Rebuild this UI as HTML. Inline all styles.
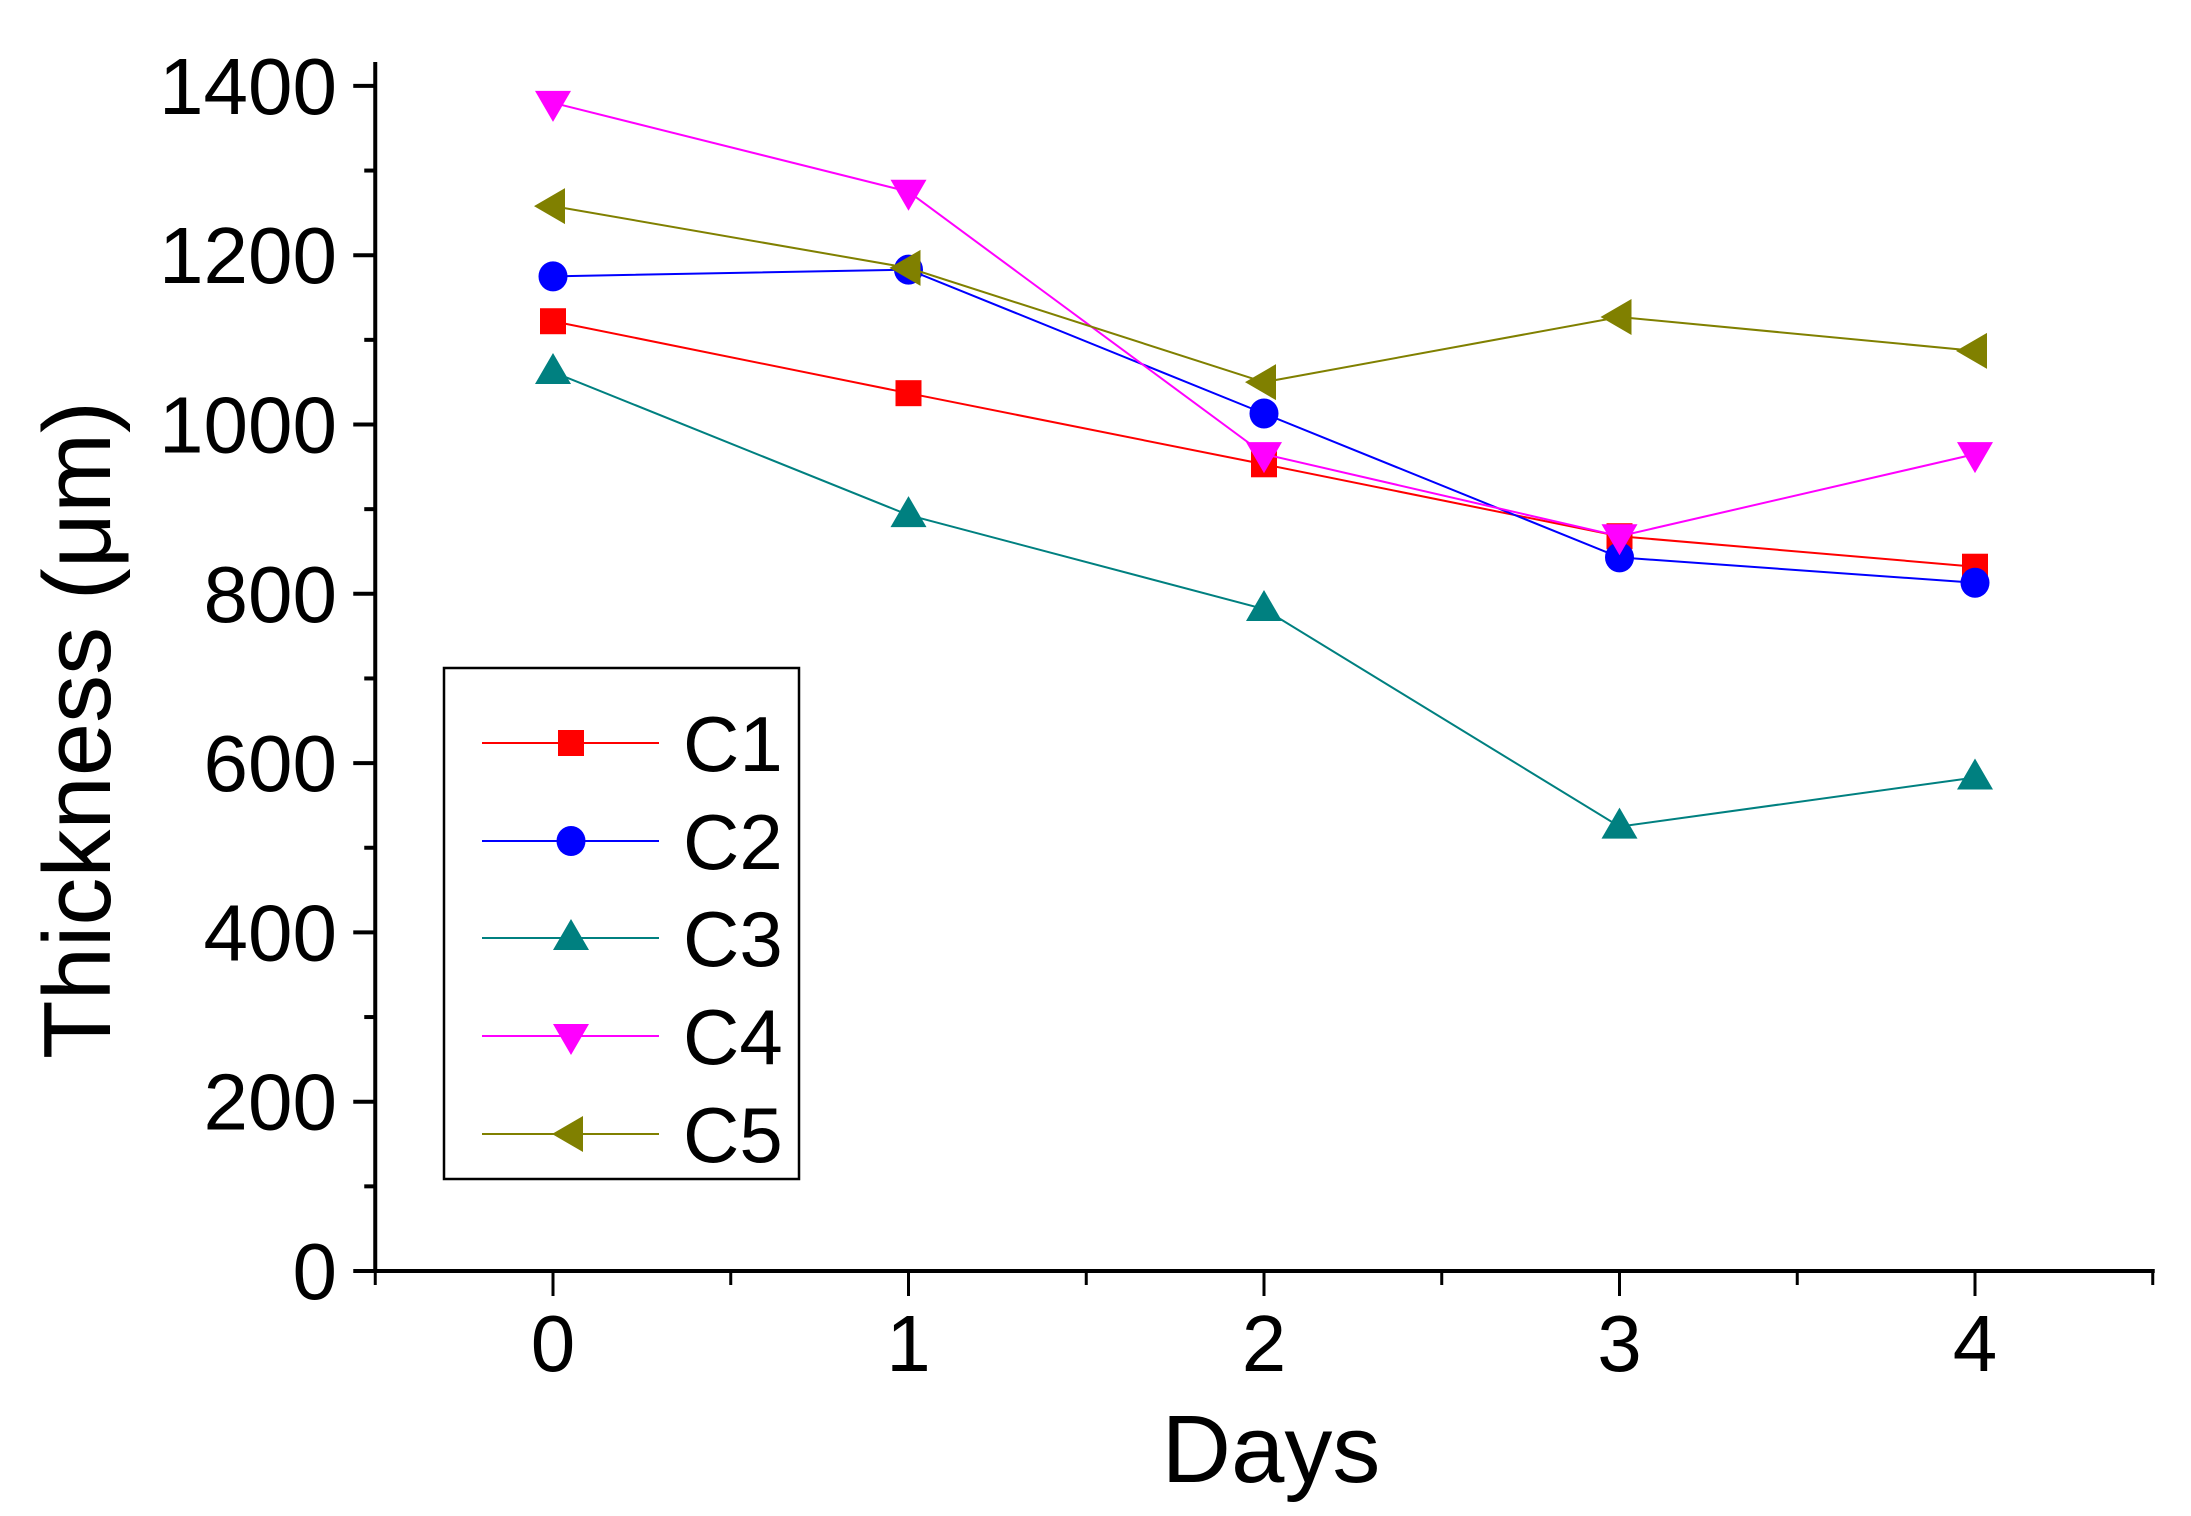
<!DOCTYPE html>
<html><head><meta charset="utf-8"><style>
html,body{margin:0;padding:0;background:#fff;}
svg{display:block;font-family:"Liberation Sans",Arial,sans-serif;}
</style></head><body>
<svg id="chart" width="2191" height="1516" viewBox="0 0 2191 1516" xmlns="http://www.w3.org/2000/svg">
<g id="axes"></g>
<g id="series"></g>
<g id="legend"></g>
<text x="1271" y="1482" font-size="96" text-anchor="middle">Days</text>
<text transform="translate(110,730) rotate(-90)" font-size="96" text-anchor="middle">Thickness (μm)</text>
</svg>
<script>
const days = [0, 1, 2, 3, 4];
const seriesNames = ["C1", "C2", "C3", "C4", "C5"];
const c1 = [1122, 1037, 953, 868, 832];
const c2 = [1175, 1183, 1013, 843, 813];
const c3 = [1062, 893, 782, 525, 583];
const c4 = [1380, 1275, 965, 868, 965];
const c5 = [1258, 1185, 1050, 1127, 1087];
const yTicks = [0, 200, 400, 600, 800, 1000, 1200, 1400];
const xTicks = [0, 1, 2, 3, 4];

const NS = "http://www.w3.org/2000/svg";
const X0 = 553, XS = 355.5, Y0 = 1271, YS = 0.8465;
function xp(v){ return X0 + v * XS; }
function yp(v){ return Y0 - v * YS; }
function mk(tag, attrs, parent){
  const e = document.createElementNS(NS, tag);
  for (const k in attrs) e.setAttribute(k, attrs[k]);
  parent.appendChild(e);
  return e;
}
const axes = document.getElementById('axes');
const ser = document.getElementById('series');
const leg = document.getElementById('legend');

// axes lines
const yax = mk('line', {x1: xp(-0.5), y1: 62, x2: xp(-0.5), y2: Y0 + 2, stroke: '#000', 'stroke-width': 4}, axes);


const xax = mk('line', {x1: xp(-0.5) - 15, y1: Y0, x2: xp(4.5) + 2, y2: Y0, stroke: '#000', 'stroke-width': 4}, axes);



// y ticks
for (let v = 0; v <= 1400; v += 100) {
  const major = v % 200 === 0;
  const t = mk('line', {x1: xp(-0.5) - (major ? 22 : 11), y1: yp(v), x2: xp(-0.5), y2: yp(v), stroke: '#000', 'stroke-width': 4}, axes);
  
  
}
yTicks.forEach(v => {
  const t = mk('text', {x: 337, y: yp(v) + 28, 'font-size': 80, 'text-anchor': 'end'}, axes);
  t.textContent = v;
  
  
});
// x ticks
for (let v = -0.5; v <= 4.5; v += 0.5) {
  const major = Math.abs(v - Math.round(v)) < 0.01;
  const t = mk('line', {x1: xp(v), y1: Y0, x2: xp(v), y2: Y0 + (major ? 25 : 14), stroke: '#000', 'stroke-width': 3}, axes);
  
  
}
xTicks.forEach(v => {
  const t = mk('text', {x: xp(v), y: 1371, 'font-size': 80, 'text-anchor': 'middle'}, axes);
  t.textContent = v;
  
  
});

const colors = ['#ff0000', '#0000ff', '#008080', '#ff00ff', '#808000'];
const shapes = ['square', 'circle', 'up', 'down', 'left'];
function marker(shape, cx, cy, color, parent){
  let e;
  if (shape === 'square') e = mk('rect', {x: cx - 13, y: cy - 13, width: 26, height: 26, fill: color}, parent);
  else if (shape === 'circle') e = mk('ellipse', {cx: cx, cy: cy, rx: 14.5, ry: 15, fill: color}, parent);
  else if (shape === 'up') e = mk('polygon', {points: `${cx},${cy-19} ${cx+18},${cy+12} ${cx-18},${cy+12}`, fill: color}, parent);
  else if (shape === 'down') e = mk('polygon', {points: `${cx-18},${cy-12} ${cx+18},${cy-12} ${cx},${cy+19}`, fill: color}, parent);
  else e = mk('polygon', {points: `${cx-19},${cy} ${cx+12},${cy-18} ${cx+12},${cy+18}`, fill: color}, parent);
  return e;
}
const all = [c1, c2, c3, c4, c5];
all.forEach((vals, i) => {
  const g = mk('g', {}, ser);
  
  
  const pts = vals.map((v, j) => xp(days[j]) + ',' + yp(v)).join(' ');
  const pl = mk('polyline', {points: pts, fill: 'none', stroke: colors[i], 'stroke-width': 2}, g);
  
  
  vals.forEach((v, j) => {
    const m = marker(shapes[i], xp(days[j]), yp(v), colors[i], g);
    
    
  });
});

// legend
const box = mk('rect', {x: 444, y: 668, width: 355, height: 511, fill: 'none', stroke: '#000', 'stroke-width': 2.5}, leg);


const legY = [743, 841, 938, 1036, 1134];
seriesNames.forEach((n, i) => {
  const g = mk('g', {}, leg);
  
  
  mk('line', {x1: 482, y1: legY[i], x2: 659, y2: legY[i], stroke: colors[i], 'stroke-width': 2}, g);
  marker(shapes[i], 571, legY[i], colors[i], g);
  const t = mk('text', {x: 683, y: legY[i] + 28, 'font-size': 78}, g);
  t.textContent = n;
  
  
});
</script>
</body></html>
